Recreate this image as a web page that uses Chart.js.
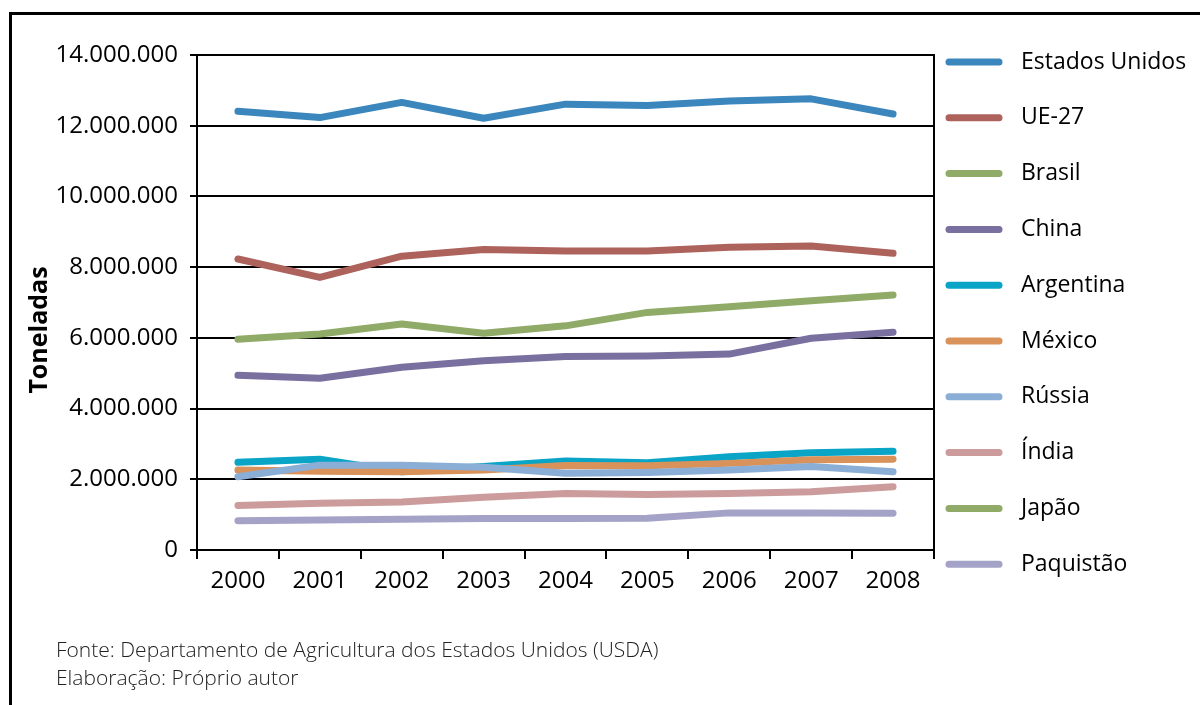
<!DOCTYPE html>
<html>
<head>
<meta charset="utf-8">
<script src="https://cdn.jsdelivr.net/npm/chart.js@4/dist/chart.umd.min.js"></script>
<style>
  html, body { margin: 0; padding: 0; background: #fff; }
  #wrap { position: relative; width: 1200px; height: 705px; overflow: hidden; }
  #frame { position: absolute; left: 9px; top: 12px; width: 1200px; height: 700px;
           border-left: 3px solid #000; border-top: 3px solid #000; }
  #myChart { position: absolute; left: 0; top: 0; }
  .fonte { position: absolute; left: 56px; font-family: 'Open Sans', sans-serif; font-weight: 300;
           font-size: 21px; color: #222; white-space: nowrap; }
</style>
</head>
<body>
<div id="wrap">
  <div id="frame"></div>
  <canvas id="myChart" width="1200" height="705"></canvas>
  <div class="fonte" style="top:635px">Fonte: Departamento de Agricultura dos Estados Unidos (USDA)</div>
  <div class="fonte" style="top:663px">Elaboração: Próprio autor</div>
</div>
<script>
const years = ['2000', '2001', '2002', '2003', '2004', '2005', '2006', '2007', '2008'];
const countries = ['Estados Unidos', 'UE-27', 'Brasil', 'China', 'Argentina', 'México', 'Rússia', 'Índia', 'Japão', 'Paquistão'];
const colors = ['#3a86bd', '#ad625b', '#8fab67', '#7a70a0', '#0aa5c6', '#d9925a', '#8aaed6', '#cc9b9b', '#8fab67', '#a4a2c6'];

// toneladas por ano
const estadosUnidos = [12410000, 12230000, 12660000, 12210000, 12610000, 12570000, 12700000, 12760000, 12330000];
const ue27 = [8230000, 7710000, 8310000, 8500000, 8460000, 8460000, 8560000, 8600000, 8390000];
const brasil = [5960000, 6110000, 6390000, 6130000, 6340000, 6720000, 6880000, 7050000, 7210000];
const china = [4940000, 4860000, 5170000, 5350000, 5470000, 5490000, 5540000, 5990000, 6160000];
const argentina = [2480000, 2570000, 2210000, 2360000, 2520000, 2470000, 2640000, 2750000, 2790000];
const mexico = [2260000, 2230000, 2210000, 2260000, 2390000, 2380000, 2450000, 2550000, 2570000];
const russia = [2070000, 2400000, 2400000, 2340000, 2170000, 2190000, 2260000, 2360000, 2210000];
const india = [1260000, 1320000, 1360000, 1490000, 1600000, 1570000, 1600000, 1650000, 1790000];
const japao = [null, null, null, null, null, null, null, null, null];
const paquistao = [830000, 850000, 870000, 890000, 890000, 900000, 1050000, 1050000, 1040000];

const series = [estadosUnidos, ue27, brasil, china, argentina, mexico, russia, india, japao, paquistao];

const yTicks = [0, 2000000, 4000000, 6000000, 8000000, 10000000, 12000000, 14000000];

const fmt = v => String(v).replace(/\B(?=(\d{3})+(?!\d))/g, '.');

// legend and axis title drawn by hand
const extras = {
    id: 'extras',
    afterDraw(chart) {
        const ctx = chart.ctx;
        ctx.save();
        chart.data.datasets.forEach((ds, i) => {
            const y = 62 + i * 55.8;
            ctx.strokeStyle = ds.borderColor;
            ctx.lineWidth = 7;
            ctx.lineCap = 'round';
            ctx.beginPath();
            ctx.moveTo(949, y);
            ctx.lineTo(999, y);
            ctx.stroke();
            ctx.fillStyle = '#000';
            ctx.font = '23px "Open Sans"';
            ctx.textBaseline = 'middle';
            ctx.fillText(ds.label, 1021, y);
        });
        ctx.translate(40, 330);
        ctx.rotate(-Math.PI / 2);
        ctx.font = 'bold 25px "Open Sans"';
        ctx.textAlign = 'center';
        ctx.textBaseline = 'middle';
        ctx.fillStyle = '#000';
        ctx.fillText('Toneladas', 0, 0);
        ctx.restore();
    }
};

const ctx = document.getElementById('myChart').getContext('2d');
new Chart(ctx, {
    type: 'line',
    data: {
        labels: years,
        datasets: countries.map((name, i) => ({
            label: name,
            data: series[i],
            borderColor: colors[i],
            backgroundColor: colors[i],
            borderWidth: 7,
            borderCapStyle: 'round',
            borderJoinStyle: 'round',
            pointRadius: 0,
            tension: 0,
            order: countries.length - i
        }))
    },
    options: {
        responsive: false,
        animation: false,
        layout: { padding: { top: 55, left: 0, right: 0, bottom: 0 } },
        plugins: { legend: { display: false }, tooltip: { enabled: false } },
        scales: {
            x: {
                offset: true,
                grid: { offset: true, drawOnChartArea: false, color: '#000', lineWidth: 2, tickLength: 9 },
                border: { color: '#000', width: 2 },
                ticks: { color: '#000', font: { family: 'Open Sans', size: 24 }, padding: 8, maxRotation: 0 },
                afterFit: s => { s.height = 155; }
            },
            y: {
                min: 0,
                max: 14000000,
                afterBuildTicks: s => { s.ticks = yTicks.map(v => ({ value: v })); },
                grid: { color: '#000', lineWidth: 2, tickLength: 7 },
                border: { color: '#000', width: 2 },
                ticks: { color: '#000', font: { family: 'Open Sans', size: 24 }, padding: 12, callback: v => fmt(v) },
                afterFit: s => { s.width = 197; }
            },
            y2: {
                position: 'right',
                grid: { drawOnChartArea: false, drawTicks: false },
                border: { color: '#000', width: 2 },
                ticks: { display: false },
                afterFit: s => { s.width = 266; }
            }
        }
    },
    plugins: [extras]
});
</script>
</body>
</html>
